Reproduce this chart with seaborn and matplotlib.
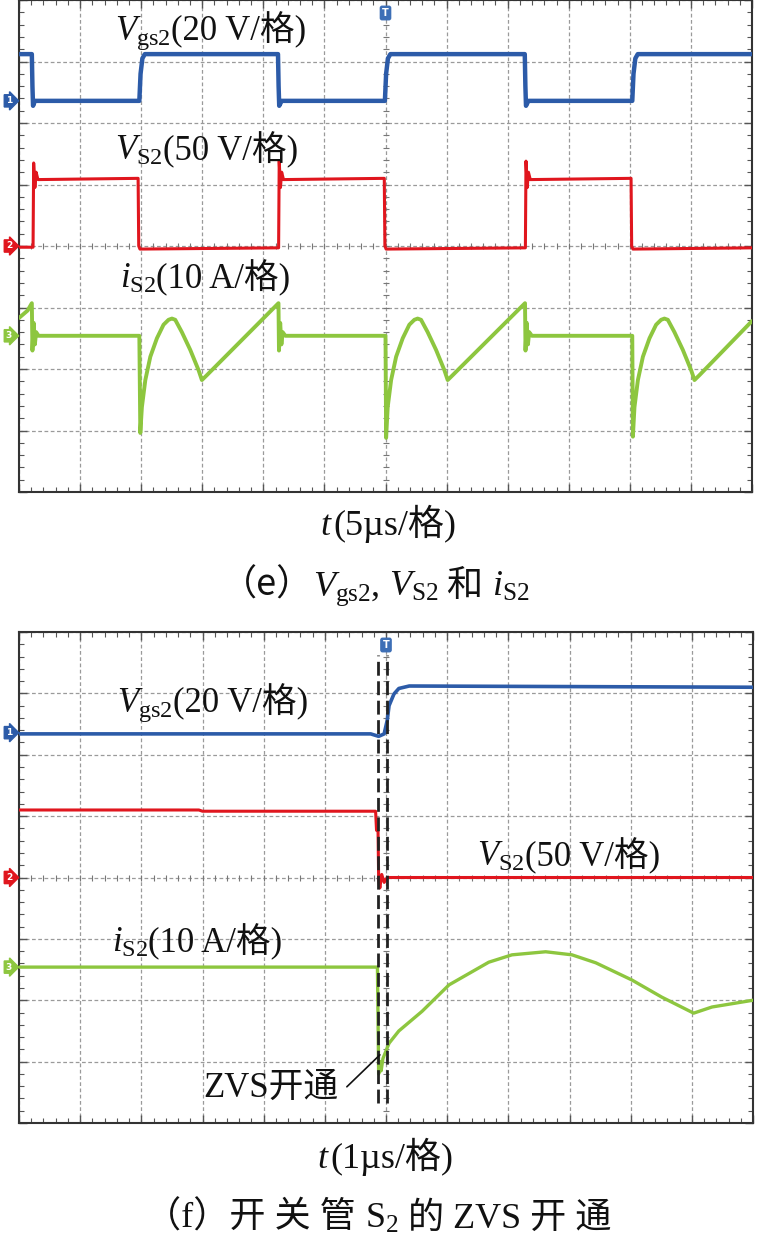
import numpy as np
import matplotlib
matplotlib.use("Agg")
import matplotlib.pyplot as plt
import seaborn as sns

# ---------------- data (time in us, level in scope divisions 0..8) ----------------
# panel (e): 5 us/div
e_vgs_t = [-30, -28.95, -28.9, -28.85, -28.7, -20.15, -20.05, -19.9, -19.7,
           -8.8, -8.75, -8.7, -8.5, -0.05, 0.05, 0.2, 0.4,
           11.4, 11.45, 11.5, 11.7, 20.2, 20.3, 20.45, 20.65, 30]
e_vgs_v = [7.12, 7.12, 6.6, 6.28, 6.36, 6.36, 6.8, 7.05, 7.12,
           7.12, 6.6, 6.28, 6.36, 6.36, 6.8, 7.05, 7.12,
           7.12, 6.6, 6.28, 6.36, 6.36, 6.8, 7.05, 7.12, 7.12]

e_vs_t = [-30, -28.85, -28.8, -28.7, -28.6, -28.45, -20.25, -20.2, -20.1,
          -8.75, -8.7, -8.6, -8.5, -8.35, -0.1, -0.05, 0.05,
          11.45, 11.5, 11.6, 11.7, 11.85, 20.1, 20.15, 20.25, 30]
e_vs_v = [3.98, 3.98, 5.35, 4.95, 5.2, 5.08, 5.1, 4.0, 3.95,
          3.97, 5.38, 4.95, 5.2, 5.08, 5.1, 4.0, 3.95,
          3.97, 5.38, 4.95, 5.2, 5.08, 5.1, 4.0, 3.95, 3.97]

e_is_t = [-30, -29.3, -28.95, -28.9, -28.8, -28.7, -28.6, -28.4, -20.15,
          -20.07, -19.94, -19.66, -19.25, -18.71, -18.17, -17.76, -17.48, -17.21, -16.67,
          -15.98, -15.30, -15.03, -14.62, -8.76,
          -8.72, -8.62, -8.52, -8.42, -8.2, 0.0,
          0.05, 0.18, 0.46, 0.87, 1.41, 1.95, 2.36, 2.63, 2.91, 3.45,
          4.14, 4.82, 5.09, 5.50, 11.42,
          11.46, 11.56, 11.66, 11.76, 11.98, 20.2,
          20.25, 20.38, 20.66, 21.07, 21.61, 22.15, 22.56, 22.83, 23.11, 23.65,
          24.34, 25.02, 25.29, 25.70, 30]
e_is_v = [2.83, 2.95, 3.07, 2.3, 2.75, 2.4, 2.6, 2.54, 2.54,
          0.96, 1.38, 1.82, 2.2, 2.5, 2.72, 2.8, 2.82, 2.8, 2.6,
          2.31, 1.98, 1.82, 1.9, 3.07,
          2.3, 2.75, 2.4, 2.6, 2.54, 2.54,
          0.88, 1.38, 1.82, 2.2, 2.5, 2.72, 2.8, 2.82, 2.8, 2.6,
          2.31, 1.98, 1.82, 1.9, 3.07,
          2.3, 2.75, 2.4, 2.6, 2.54, 2.54,
          0.9, 1.38, 1.82, 2.2, 2.5, 2.72, 2.8, 2.82, 2.8, 2.6,
          2.31, 1.98, 1.82, 1.9, 2.78]

# panel (f): 1 us/div
f_vgs_t = [-6, -0.25, -0.12, -0.03, 0.02, 0.05, 0.13, 0.21, 0.38, 6]
f_vgs_v = [6.34, 6.34, 6.3, 6.34, 6.56, 6.8, 6.99, 7.08, 7.12, 7.1]

f_vs_t = [-6, -3.06, -3.0, -0.17, -0.155, -0.13, -0.12, -0.1, -0.07, -0.03, 0.02, 6]
f_vs_v = [5.10, 5.10, 5.08, 5.08, 4.77, 4.75, 3.96, 3.83, 4.05, 3.92, 4.0, 4.0]

f_is_t = [-6, -0.14, -0.12, -0.1, -0.08, -0.05, 0.05, 0.21, 0.40, 0.59, 1.03, 1.68,
          2.06, 2.61, 3.04, 3.43, 4.02, 4.51, 5.03, 5.33, 6]
f_is_v = [2.54, 2.54, 0.8, 1.0, 0.85, 1.05, 1.30, 1.50, 1.66, 1.82, 2.25, 2.62,
          2.74, 2.79, 2.74, 2.61, 2.33, 2.05, 1.79, 1.89, 2.0]

ground_levels = [6.36, 4.0, 2.54]   # channel 1, 2, 3 markers
channel_names = ["1", "2", "3"]
zvs_marks_t = [-0.13, 0.02]          # dashed black lines in (f)
zvs_pointer_t = [-0.64, -0.10]
zvs_pointer_v = [0.59, 1.11]

BLUE = "#2c5ba8"
RED = "#e0161e"
GREEN = "#8dc63f"
CH_COLORS = [BLUE, RED, GREEN]

# ---------------- style ----------------
sns.set_theme(style="white")
SERIF = ["Liberation Serif", "Noto Sans CJK SC", "DejaVu Sans"]
plt.rcParams["font.family"] = SERIF
plt.rcParams["mathtext.fontset"] = "custom"
plt.rcParams["mathtext.rm"] = "Liberation Serif"
plt.rcParams["mathtext.it"] = "Liberation Serif:italic"
plt.rcParams["mathtext.bf"] = "Liberation Serif:bold"

W, H = 759, 1241
fig = plt.figure(figsize=(W / 100, H / 100), dpi=100)
fig.patch.set_facecolor("white")
ax1 = fig.add_axes([19 / W, 1 - 492 / H, 733 / W, 492 / H])
ax2 = fig.add_axes([19 / W, 1 - 1123 / H, 734 / W, 491 / H])


def style_scope(ax, xlim):
    ax.set_xlim(*xlim)
    ax.set_ylim(0, 8)
    xmaj = np.linspace(xlim[0], xlim[1], 13)
    xmin = np.linspace(xlim[0], xlim[1], 61)
    ymaj = np.arange(0, 9)
    ymin = np.linspace(0, 8, 41)
    ax.set_xticks(xmaj)
    ax.set_xticks(xmin, minor=True)
    ax.set_yticks(ymaj)
    ax.set_yticks(ymin, minor=True)
    ax.tick_params(which="both", direction="in", top=True, right=True,
                   bottom=True, left=True, labelbottom=False, labelleft=False,
                   color="#555555")
    ax.tick_params(which="major", length=6, width=1.0)
    ax.tick_params(which="minor", length=3.5, width=0.8)
    ax.grid(True, which="major", color="#9a9a9a", linestyle=(0, (3, 2)), lw=0.9)
    ax.set_axisbelow(True)
    for sp in ax.spines.values():
        sp.set_color("#333333")
        sp.set_linewidth(1.5)
    xc = 0.5 * (xlim[0] + xlim[1])
    ax.plot(xmin, np.full_like(xmin, 4.0), ls="none", marker="|", ms=5,
            mew=0.8, color="#777777", zorder=1)
    ax.plot(np.full_like(ymin, xc), ymin, ls="none", marker="_", ms=5,
            mew=0.8, color="#777777", zorder=1)
    # trigger marker
    ax.annotate("T", xy=(xc, 8), xycoords="data", xytext=(0, -13),
                textcoords="offset pixels", ha="center", va="center",
                fontsize=7, fontweight="bold", color="white",
                family="DejaVu Sans",
                bbox=dict(boxstyle="round,pad=0.18", fc="#3d6fb6", ec="#3d6fb6"),
                annotation_clip=False, zorder=6)
    # channel markers
    for lvl, name, col in zip(ground_levels, channel_names, CH_COLORS):
        ax.annotate(name, xy=(0, lvl), xycoords=("axes fraction", "data"),
                    xytext=(-10, 0), textcoords="offset pixels",
                    ha="center", va="center", fontsize=6.5, color="white",
                    family="DejaVu Sans", fontweight="bold",
                    bbox=dict(boxstyle="rarrow,pad=0.18", fc=col, ec=col),
                    annotation_clip=False)


style_scope(ax1, (-30, 30))
style_scope(ax2, (-6, 6))

# traces
sns.lineplot(x=e_vgs_t, y=e_vgs_v, ax=ax1, color=BLUE, lw=3.2, sort=False, estimator=None, zorder=4)
sns.lineplot(x=e_vs_t, y=e_vs_v, ax=ax1, color=RED, lw=2.2, sort=False, estimator=None, zorder=4)
sns.lineplot(x=e_is_t, y=e_is_v, ax=ax1, color=GREEN, lw=2.8, sort=False, estimator=None, zorder=4)

sns.lineplot(x=f_vgs_t, y=f_vgs_v, ax=ax2, color=BLUE, lw=2.6, sort=False, estimator=None, zorder=4)
sns.lineplot(x=f_vs_t, y=f_vs_v, ax=ax2, color=RED, lw=2.2, sort=False, estimator=None, zorder=4)
sns.lineplot(x=f_is_t, y=f_is_v, ax=ax2, color=GREEN, lw=2.4, sort=False, estimator=None, zorder=4)

for tx in zvs_marks_t:
    ax2.plot([tx, tx], [0.33, 7.62], color="#222222", lw=2.0,
             linestyle=(0, (5, 2)), zorder=5)
ax2.plot(zvs_pointer_t, zvs_pointer_v, color="#111111", lw=1.2, zorder=5)
for ax in (ax1, ax2):
    ax.set_xlabel("")
    ax.set_ylabel("")
    if ax.get_legend() is not None:
        ax.get_legend().remove()

# ---------------- text helpers ----------------
fig.canvas.draw()
renderer = fig.canvas.get_renderer()


def chain(x_px, y_px, pieces, size, ha="left"):
    texts = []
    x = x_px
    for s, fam in pieces:
        t = fig.text(x / W, 1 - y_px / H, s, fontsize=size, family=fam,
                     ha="left", va="baseline", color="#111111")
        bb = t.get_window_extent(renderer)
        texts.append((t, x))
        x += bb.width
    total = x - x_px
    if ha == "center":
        for t, xx in texts:
            t.set_x((xx - total / 2) / W)
    return total


CJK = ["Noto Sans CJK SC", "Liberation Serif"]
FS = 25
FC = 26

chain(115, 40, [(r"$V_{\mathrm{gs2}}$", SERIF), ("(20 V/格)", SERIF)], FS)
chain(115, 160, [(r"$V_{\mathrm{S2}}$", SERIF), ("(50 V/格)", SERIF)], FS)
chain(120, 288, [(r"$i_{\mathrm{S2}}$", SERIF), ("(10 A/格)", SERIF)], FS)

chain(117, 712, [(r"$V_{\mathrm{gs2}}$", SERIF), ("(20 V/格)", SERIF)], FS)
chain(477, 866, [(r"$V_{\mathrm{S2}}$", SERIF), ("(50 V/格)", SERIF)], FS)
chain(112, 952, [(r"$i_{\mathrm{S2}}$", SERIF), ("(10 A/格)", SERIF)], FS)
chain(203, 1097, [("ZVS开通", SERIF)], FS)

chain(388, 535, [(r"$t$", SERIF), ("(5µs/格)", SERIF)], FC, ha="center")
chain(375, 596, [("（e）", CJK), (r"$V_{\mathrm{gs2}}$", SERIF), (", ", SERIF),
                 (r"$V_{\mathrm{S2}}$", SERIF), (" 和 ", SERIF),
                 (r"$i_{\mathrm{S2}}$", SERIF)], FC, ha="center")
chain(385, 1168, [(r"$t$", SERIF), ("(1µs/格)", SERIF)], FC, ha="center")
chain(378, 1228, [("（f）开 关 管 ", SERIF), (r"$\mathrm{S}_{2}$", SERIF),
                  (" 的 ZVS 开 通", SERIF)], FC, ha="center")

fig.savefig("out.png", dpi=100, facecolor="white")
